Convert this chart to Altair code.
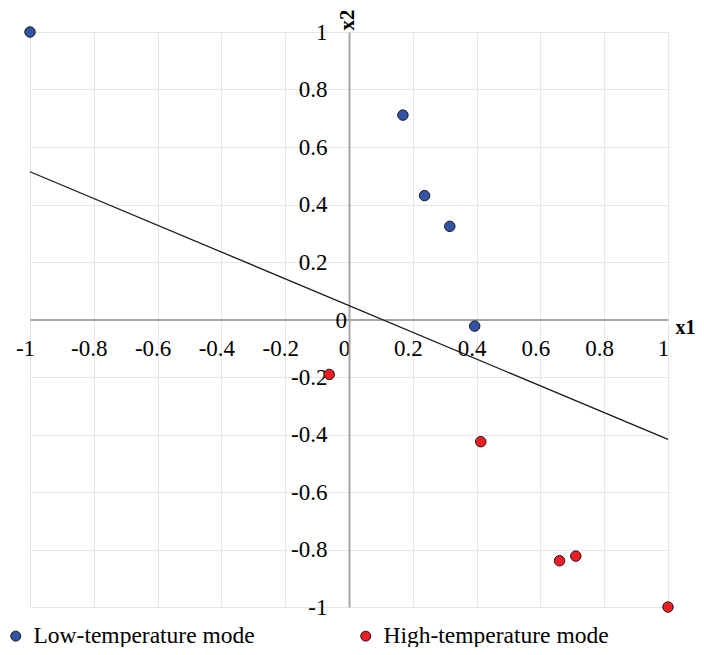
import altair as alt
import pandas as pd

# ---- data ----
series_names = ["Low-temperature mode", "High-temperature mode"]
low_x = [-1.0, 0.169, 0.237, 0.316, 0.394]
low_y = [1.0, 0.711, 0.431, 0.324, -0.023]
high_x = [-0.062, 0.413, 0.660, 0.711, 1.0]
high_y = [-0.191, -0.425, -0.839, -0.823, -1.0]
line_x = [-1.0, 1.0]
line_y = [0.514, -0.417]
tick_values = [-1, -0.8, -0.6, -0.4, -0.2, 0, 0.2, 0.4, 0.6, 0.8, 1]
colors = ["#3353a6", "#ee1c24"]

FONT = "'Liberation Serif', 'Times New Roman', Times, serif"
W, H = 638, 575

pts = pd.DataFrame({
    "x1": low_x + high_x,
    "x2": low_y + high_y,
    "mode": [series_names[0]] * len(low_x) + [series_names[1]] * len(high_x),
})
line_df = pd.DataFrame({"x1": line_x, "x2": line_y})
zero_df = pd.DataFrame({"x1": [0], "x2": [0], "t": ["0"]})

xscale = alt.Scale(domain=[-1, 1], nice=False, zero=False)
yscale = alt.Scale(domain=[-1, 1], nice=False, zero=False)

xaxis = alt.Axis(
    values=tick_values, grid=True, gridColor="#e6e6e6", gridWidth=1,
    domainColor="#a6a6a6", domainWidth=2, ticks=False,
    labelFont=FONT, labelFontSize=23, labelColor="black",
    labelPadding=18, labelOffset=-5, labelFlush=False, labelOverlap=False,
    labelExpr="toString(datum.value)",
    offset=-H / 2,
    title="x1", titleFont=FONT, titleFontSize=20, titleFontWeight="bold",
    titleColor="black", titleX=W + 7, titleY=13.5, titleAlign="left",
    titleBaseline="alphabetic", titleAngle=0,
)
yaxis = alt.Axis(
    values=tick_values, grid=True, gridColor="#e6e6e6", gridWidth=1,
    domainColor="#a6a6a6", domainWidth=2, ticks=False,
    labelFont=FONT, labelFontSize=23, labelColor="black",
    labelPadding=22, labelFlush=False, labelOverlap=False,
    labelExpr="datum.value == 0 ? '' : toString(datum.value)",
    offset=-W / 2,
    title="x2", titleFont=FONT, titleFontSize=21, titleFontWeight="bold",
    titleColor="black", titleX=4, titleY=-2, titleAlign="left",
    titleBaseline="alphabetic", titleAngle=270,
)

line = alt.Chart(line_df).mark_line(color="#1a1a1a", strokeWidth=1.3).encode(
    x=alt.X("x1:Q", scale=xscale, axis=xaxis),
    y=alt.Y("x2:Q", scale=yscale, axis=yaxis),
)

points = alt.Chart(pts).mark_point(
    filled=True, size=110, stroke="#1a1a1a", strokeWidth=1, opacity=1
).encode(
    x=alt.X("x1:Q", scale=xscale),
    y=alt.Y("x2:Q", scale=yscale),
    color=alt.Color(
        "mode:N",
        scale=alt.Scale(domain=series_names, range=colors),
        sort=series_names,
        legend=alt.Legend(
            title=None, orient="none", legendX=-26, legendY=592,
            direction="horizontal", columns=2, columnPadding=99,
            labelFont=FONT, labelFontSize=23.5, labelColor="black",
            labelOffset=6, labelLimit=400, symbolType="circle", symbolSize=100,
            symbolStrokeColor="#1a1a1a", symbolStrokeWidth=1,
            symbolOpacity=1, padding=0,
        ),
    ),
)

zero_label = alt.Chart(zero_df).mark_text(
    align="right", baseline="middle", dx=-2, dy=1,
    font=FONT, fontSize=23, color="black",
).encode(
    x=alt.X("x1:Q", scale=xscale),
    y=alt.Y("x2:Q", scale=yscale),
    text="t:N",
)

chart = alt.layer(line, points, zero_label).properties(
    width=W, height=H,
    padding={"left": 22, "top": 24, "right": 28, "bottom": 40},
    autosize=alt.AutoSizeParams(type="none"),
).configure_view(strokeWidth=0).configure(background="white")

chart.save("out.html", embed_options={"renderer": "svg", "actions": False})
